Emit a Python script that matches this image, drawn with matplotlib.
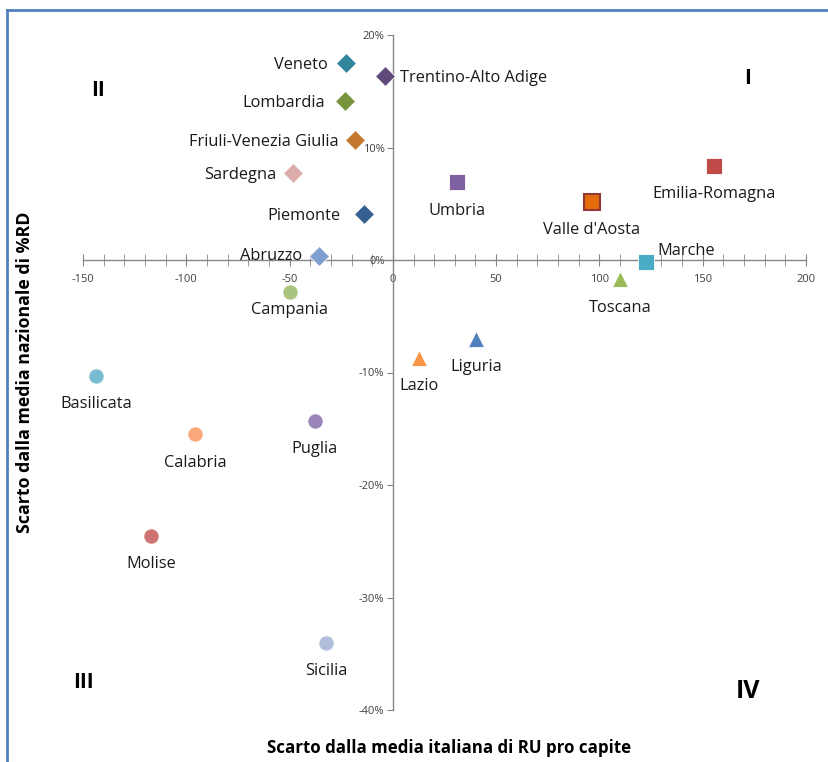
import matplotlib
matplotlib.use("Agg")
import matplotlib.pyplot as plt
from matplotlib.lines import Line2D
from matplotlib.ticker import MultipleLocator, FuncFormatter

plt.rcParams['font.family'] = ['Open Sans', 'DejaVu Sans']

# Dati: scarto RU pro capite (kg) e scarto %RD (punti percentuali)
regioni = ["Veneto", "Trentino-Alto Adige", "Lombardia", "Friuli-Venezia Giulia",
           "Sardegna", "Piemonte", "Abruzzo", "Umbria", "Valle d'Aosta",
           "Emilia-Romagna", "Marche", "Toscana", "Campania", "Liguria", "Lazio",
           "Basilicata", "Calabria", "Puglia", "Molise", "Sicilia"]
scarto_ru = [-22.7, -3.9, -23.2, -18.4, -48.4, -14.0, -35.8, 31.0, 96.3,
             155.4, 122.5, 109.9, -49.9, 40.2, 12.6, -143.8, -95.8, -37.8,
             -117.1, -32.4]
scarto_rd = [17.5, 16.4, 14.1, 10.7, 7.7, 4.1, 0.4, 6.9, 5.2,
             8.4, -0.2, -1.7, -2.8, -7.0, -8.7, -10.3, -15.5, -14.3,
             -24.5, -34.0]

# stile dei marker (forma, colore)
marker = ["D", "D", "D", "D", "D", "D", "D", "s", "s", "s", "s", "^", "o",
          "^", "^", "o", "o", "o", "o", "o"]
colori = ["#31859C", "#604A7B", "#77933C", "#C5792F", "#DCADAB", "#376092",
          "#7F9FD0", "#7F60A0", "#E46C0A", "#BE4B48", "#4BACC6", "#9BBB59",
          "#A9C47F", "#4F81BD", "#F79646", "#78BCD1", "#F9A979", "#9A86B8",
          "#CD7371", "#B0BEDB"]
dim_marker = {"D": 10, "s": 11, "^": 11.5, "o": 11}
# posizione delle etichette (offset in punti, allineamento)
etichette = {"Veneto": (-13, -1.5, "right"), "Trentino-Alto Adige": (11, -1.5, "left"),
             "Lombardia": (-14, -1.5, "right"), "Friuli-Venezia Giulia": (-12, -1.5, "right"),
             "Sardegna": (-12, -1.5, "right"), "Piemonte": (-17, -1.5, "right"),
             "Abruzzo": (-12, 0, "right"), "Marche": (8, 8, "left"),
             "Campania": (0, -13, "center")}

fig = plt.figure(figsize=(8.29, 7.62), dpi=100)
ax = fig.add_axes([83 / 829, 1 - 710 / 762, 723 / 829, 675 / 762])

for i, nome in enumerate(regioni):
    ec = "#953735" if nome == "Valle d'Aosta" else "white"
    lw = 1.5 if nome == "Valle d'Aosta" else 0.6
    ax.plot(scarto_ru[i], scarto_rd[i], marker=marker[i], ms=dim_marker[marker[i]],
            color=colori[i], mec=ec, mew=lw, ls="none", zorder=3)
    dx, dy, ha = etichette.get(nome, (0, -20.5, "center"))
    ax.annotate(nome, (scarto_ru[i], scarto_rd[i]), xytext=(dx, dy),
                textcoords="offset points", ha=ha, va="center",
                fontsize=11.8, color="#1a1a1a")

ax.set_xlim(-150, 200)
ax.set_ylim(-40, 20)

for s in ["top", "right"]:
    ax.spines[s].set_visible(False)
ax.spines["left"].set_position(("data", 0))
ax.spines["bottom"].set_position(("data", 0))
for s in ["left", "bottom"]:
    ax.spines[s].set_color("#868686")
    ax.spines[s].set_linewidth(1)

ax.xaxis.set_major_locator(MultipleLocator(50))
ax.xaxis.set_minor_locator(MultipleLocator(10))
ax.xaxis.set_major_formatter(FuncFormatter(lambda v, p: f"{v:.0f}"))
ax.yaxis.set_major_locator(MultipleLocator(10))
ax.yaxis.set_major_formatter(FuncFormatter(lambda v, p: f"{v:.0f}%"))
ax.tick_params(axis="x", which="both", direction="inout", length=8, color="#868686",
               labelsize=8, labelcolor="#404040", pad=6)
ax.tick_params(axis="y", direction="out", length=4, color="#868686",
               labelsize=8, labelcolor="#404040", pad=2)

# numeri romani dei quadranti
fig.text(748 / 829, 1 - 78 / 762, "I", fontsize=15, fontweight="bold", ha="center", va="center")
fig.text(98 / 829, 1 - 90 / 762, "II", fontsize=15, fontweight="bold", ha="center", va="center")
fig.text(83 / 829, 1 - 682 / 762, "III", fontsize=15, fontweight="bold", ha="center", va="center")
fig.text(748 / 829, 1 - 692 / 762, "IV", fontsize=18, fontweight="bold", ha="center", va="center")

fig.text(449 / 829, 1 - 748 / 762, "Scarto dalla media italiana di RU pro capite",
         fontsize=12.2, fontweight="bold", ha="center", va="center")
fig.text(25 / 829, 1 - 372 / 762, "Scarto dalla media nazionale di %RD",
         fontsize=12.8, fontweight="bold", ha="center", va="center", rotation=90)

# bordo blu del grafico
fig.add_artist(Line2D([7 / 829, 1], [1 - 10 / 762, 1 - 10 / 762], color="#4F81BD", lw=2))
fig.add_artist(Line2D([7 / 829, 7 / 829], [0, 1 - 10 / 762], color="#4F81BD", lw=2))

fig.savefig("out.png", dpi=100)
